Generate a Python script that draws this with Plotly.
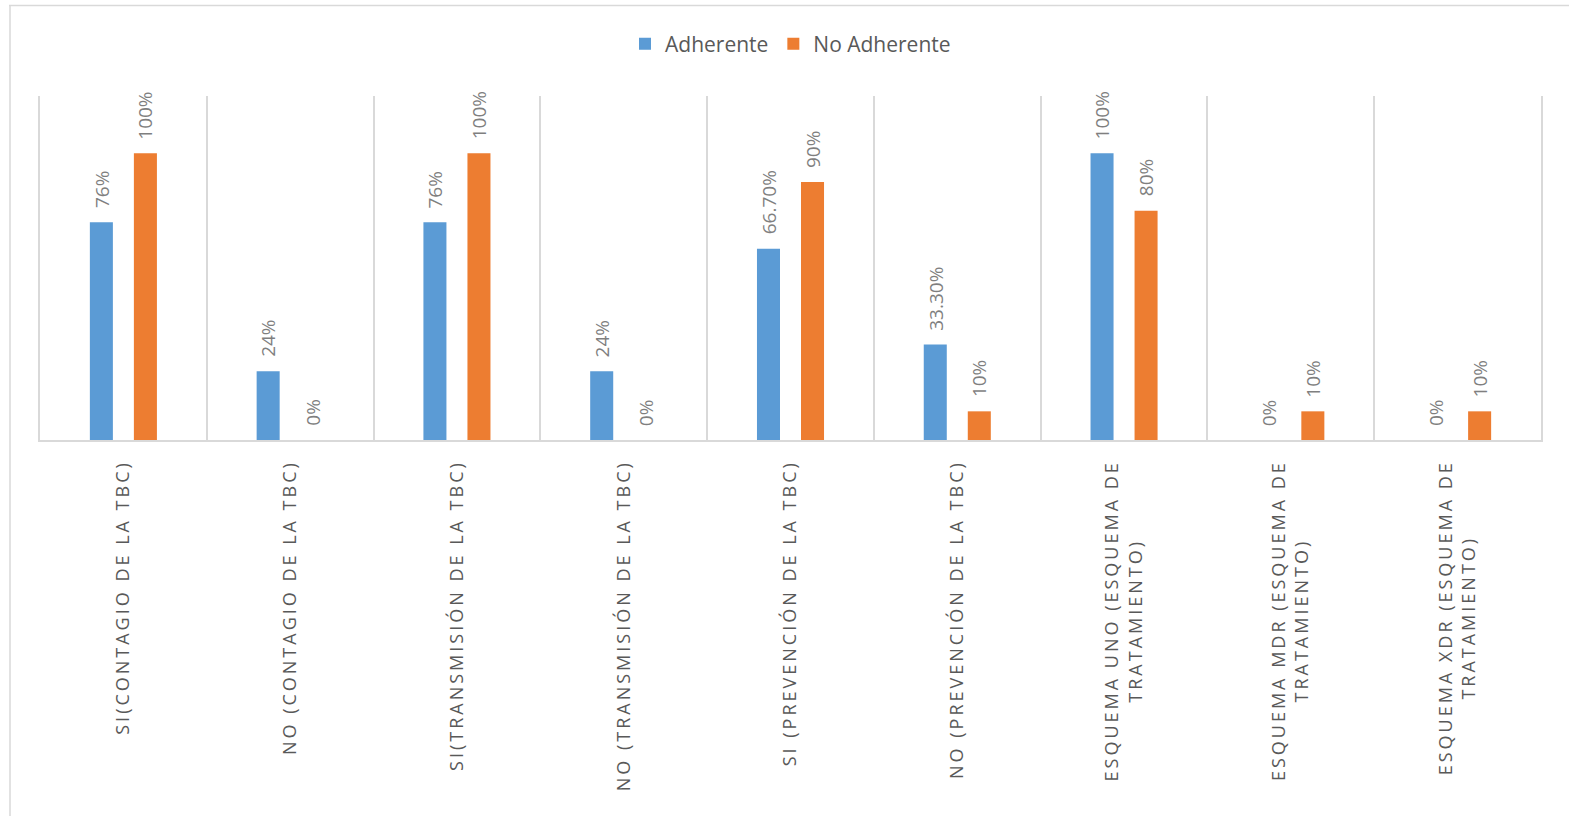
import plotly.graph_objects as go

categories = [
    "SI(CONTAGIO DE LA TBC)",
    "NO (CONTAGIO DE LA TBC)",
    "SI(TRANSMISIÓN DE LA TBC)",
    "NO (TRANSMISIÓN DE LA TBC)",
    "SI (PREVENCIÓN DE LA TBC)",
    "NO (PREVENCIÓN DE LA TBC)",
    "ESQUEMA UNO (ESQUEMA DE TRATAMIENTO)",
    "ESQUEMA MDR (ESQUEMA DE TRATAMIENTO)",
    "ESQUEMA XDR (ESQUEMA DE TRATAMIENTO)",
]
tick_labels = [
    "SI(CONTAGIO DE LA TBC)",
    "NO (CONTAGIO DE LA TBC)",
    "SI(TRANSMISIÓN DE LA TBC)",
    "NO (TRANSMISIÓN DE LA TBC)",
    "SI (PREVENCIÓN DE LA TBC)",
    "NO (PREVENCIÓN DE LA TBC)",
    "ESQUEMA UNO (ESQUEMA DE<br>TRATAMIENTO)",
    "ESQUEMA MDR (ESQUEMA DE<br>TRATAMIENTO)",
    "ESQUEMA XDR (ESQUEMA DE<br>TRATAMIENTO)",
]
adherente = [76, 24, 76, 24, 66.7, 33.3, 100, 0, 0]
no_adherente = [100, 0, 100, 0, 90, 10, 80, 10, 10]
adherente_labels = ["76%", "24%", "76%", "24%", "66.70%", "33.30%", "100%", "0%", "0%"]
no_adherente_labels = ["100%", "0%", "100%", "0%", "90%", "10%", "80%", "10%", "10%"]

W, H = 1569, 816
ML, MR, MT, MB = 40, 28, 96, 376
FONT = "Open Sans"
BLUE = "#5B9BD5"
ORANGE = "#ED7D31"
GRID = "#D9D9D9"

fig = go.Figure()
fig.add_trace(go.Bar(name="Adherente", x=categories, y=adherente,
                     marker=dict(color=BLUE, line=dict(width=0))))
fig.add_trace(go.Bar(name="No Adherente", x=categories, y=no_adherente,
                     marker=dict(color=ORANGE, line=dict(width=0))))

# data labels (rotated), placed above each bar
annotations = []
for vals, labs, shift in [(adherente, adherente_labels, -22), (no_adherente, no_adherente_labels, 22)]:
    for c, v, t in zip(categories, vals, labs):
        annotations.append(dict(
            x=c, y=v, xref="x", yref="y", text=t, showarrow=False,
            textangle=-90, xanchor="center", yanchor="bottom",
            xshift=shift, yshift=12,
            font=dict(family=FONT, size=19, color="#7F7F7F"),
        ))

pw = W - ML - MR
ph = H - MT - MB
def px_x(px):
    return (px - ML) / pw
def px_y(py):
    return (H - MB - py) / ph

shapes = [
    dict(type="line", xref="paper", yref="paper",
         x0=px_x(9), x1=px_x(W), y0=px_y(5.5), y1=px_y(5.5),
         line=dict(color=GRID, width=1.5)),
    dict(type="line", xref="paper", yref="paper",
         x0=px_x(10), x1=px_x(10), y0=px_y(5.5), y1=px_y(H),
         line=dict(color=GRID, width=1.5)),
]

fig.update_layout(
    width=W, height=H,
    margin=dict(l=ML, r=MR, t=MT, b=MB, pad=0),
    paper_bgcolor="white", plot_bgcolor="white",
    barmode="group", bargap=0.472, bargroupgap=0.477,
    font=dict(family=FONT, color="#595959"),
    legend=dict(orientation="h", x=0.5, xanchor="center", y=px_y(44), yanchor="middle",
                font=dict(family=FONT, size=21, color="#595959"),
                itemwidth=30, traceorder="normal"),
    annotations=annotations,
    shapes=shapes,
    xaxis=dict(type="category", tickmode="array", tickvals=categories, ticktext=tick_labels,
               tickson="boundaries", showgrid=True, gridcolor=GRID, gridwidth=1.5,
               ticks="", showline=True, linecolor=GRID, linewidth=2,
               tickangle=-90, ticklabelstandoff=11,
               tickfont=dict(family=FONT, size=18, color="#595959"),
               range=[-0.5, 8.5], fixedrange=True),
    yaxis=dict(range=[0, 120], showticklabels=False, ticks="", showgrid=False, zeroline=False,
               showline=True, mirror=True, linecolor=GRID, linewidth=1.5, fixedrange=True),
    showlegend=True,
)

post = """
document.body.style.margin='0';
document.querySelectorAll('.xtick text').forEach(function(t){
  t.setAttribute('letter-spacing','3px');
  var lines = t.querySelectorAll('tspan.line');
  if (lines.length > 1) {
    var L1 = lines[0].getComputedTextLength();
    for (var i = 1; i < lines.length; i++) {
      var Li = lines[i].getComputedTextLength();
      var x0 = parseFloat(lines[i].getAttribute('x'));
      lines[i].setAttribute('x', x0 - (L1 - Li) / 2);
    }
  }
});
"""
fig.write_html("out.html", post_script=post, config={"displayModeBar": False})
